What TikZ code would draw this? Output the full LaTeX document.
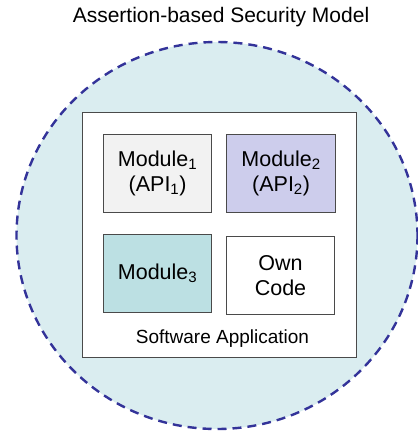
\documentclass[tikz,border=0pt]{standalone}
\usepackage{fontspec}
\setmainfont{Liberation Sans}
\definecolor{zonefill}{HTML}{DAEDF0}
\definecolor{zoneline}{HTML}{333399}
\definecolor{boxline}{HTML}{4A4A4A}
\definecolor{modonefill}{HTML}{F2F2F2}
\definecolor{modtwofill}{HTML}{CDCDEC}
\definecolor{modthreefill}{HTML}{BCE0E3}
\begin{document}
\begin{tikzpicture}[x=1pt,y=-1pt,
  zone/.style={fill=zonefill, draw=zoneline, line width=2.4pt, dash pattern=on 9pt off 6pt},
  appbox/.style={draw=boxline, fill=white, line width=0.9pt, inner sep=0pt, minimum width=274.5pt, minimum height=245.5pt},
  modbox/.style={draw=boxline, line width=0.9pt, inner sep=0pt, align=center, minimum width=108.5pt, minimum height=78.5pt, font=\fontsize{21.5}{25}\selectfont},
  lbl/.style={inner sep=0pt, align=center}
]
\useasboundingbox (0,0) rectangle (418,432);
\draw[zone] (217,235.5) ellipse [x radius=200.5, y radius=193.5];
\node[lbl, font=\fontsize{21}{25}\selectfont] (title) at (221,17) {Assertion-based Security Model};
\node[appbox] (app) at (219.25,234.75) {};
\node[modbox, fill=modonefill] (m1) at (157.6,173.2) {Module\textsubscript{1}\\(API\textsubscript{1})};
\node[modbox, fill=modtwofill] (m2) at (281.1,173.2) {Module\textsubscript{2}\\(API\textsubscript{2})};
\node[modbox, fill=modthreefill] (m3) at (157.6,273.5) {Module\textsubscript{3}};
\node[modbox, fill=white] (own) at (280.5,275.2) {Own\\Code};
\node[lbl, font=\fontsize{19}{22}\selectfont] (applbl) at (222.5,339) {Software Application};
\end{tikzpicture}
\end{document}
